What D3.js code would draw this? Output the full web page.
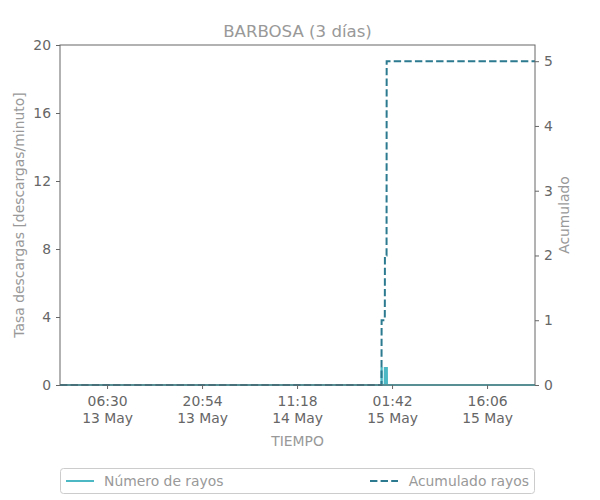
<!DOCTYPE html>
<html><head><meta charset="utf-8">
<script src="https://cdn.jsdelivr.net/npm/d3@7"></script>
<style>
body{margin:0;background:#fff;}
text{font-family:"DejaVu Sans",sans-serif;}
</style></head>
<body><svg id="c" width="600" height="500"></svg>
<script>
const title = "BARBOSA (3 días)";
const domainTimes = ["2024-05-12T23:22:00", "2024-05-15T23:22:00"];
const tickTimes = ["2024-05-13T06:30:00","2024-05-13T20:54:00","2024-05-14T11:18:00","2024-05-15T01:42:00","2024-05-15T16:06:00"];
const leftTicks = [0,4,8,12,16,20];
const rightTicks = [0,1,2,3,4,5];
const rateTimes = ["2024-05-12T23:22:00","2024-05-15T00:05:00","2024-05-15T00:06:00","2024-05-15T00:08:00","2024-05-15T00:09:00",
  "2024-05-15T00:35:00","2024-05-15T00:36:00","2024-05-15T00:38:00","2024-05-15T00:39:00",
  "2024-05-15T00:51:00","2024-05-15T00:52:00","2024-05-15T00:55:00","2024-05-15T00:56:00","2024-05-15T23:22:00"];
const rateValues = [0,0,1,1,0, 0,1,1,0, 0,1,1,0,0];
const accTimes = ["2024-05-12T23:22:00","2024-05-15T00:06:00","2024-05-15T00:07:00","2024-05-15T00:36:00","2024-05-15T00:37:00","2024-05-15T00:52:00","2024-05-15T00:53:00","2024-05-15T23:22:00"];
const accValues = [0,0,1,1,2,2,5,5];
const seriesNames = ["Número de rayos","Acumulado rayos"];

const parse = d3.isoParse;
const W=600,H=500, m={l:60,r:65,t:45,b:115};
const FS="13.9px";
const svg=d3.select("#c");
const x=d3.scaleTime().domain(domainTimes.map(parse)).range([m.l,W-m.r]);
const yL=d3.scaleLinear().domain([0,20]).range([H-m.b,m.t]);
const yR=d3.scaleLinear().domain([0,5.25]).range([H-m.b,m.t]);
const fmtT=d3.timeFormat("%H:%M"), fmtD=d3.timeFormat("%-d %b");
const axisCol="#666", tickTxt="#666", labCol="#999";

// lines
const rate = rateTimes.map((t,i)=>({t:parse(t),v:rateValues[i]}));
const acc = accTimes.map((t,i)=>({t:parse(t),v:accValues[i]}));
svg.append("path").datum(rate).attr("fill","none").attr("stroke","#4bb8c4").attr("stroke-width",2)
  .attr("d",d3.line().x(d=>x(d.t)).y(d=>yL(d.v)));
svg.append("path").datum(acc).attr("fill","none").attr("stroke","#2b7a8f").attr("stroke-width",2)
  .attr("stroke-dasharray","7.4,3.2")
  .attr("d",d3.line().x(d=>x(d.t)).y(d=>yR(d.v)));

// frame
svg.append("rect").attr("x",m.l).attr("y",m.t).attr("width",W-m.l-m.r).attr("height",H-m.t-m.b)
  .attr("fill","none").attr("stroke",axisCol).attr("stroke-width",1);

function style(g){
  g.select(".domain").remove();
  g.selectAll(".tick line").attr("stroke",axisCol);
  g.selectAll(".tick text").attr("fill",tickTxt).style("font-size",FS).style("font-family","DejaVu Sans");
}
svg.append("g").attr("transform",`translate(${m.l},0)`)
  .call(d3.axisLeft(yL).tickValues(leftTicks).tickSize(4).tickPadding(5).tickFormat(d3.format("d"))).call(style);
svg.append("g").attr("transform",`translate(${W-m.r},0)`)
  .call(d3.axisRight(yR).tickValues(rightTicks).tickSize(4).tickPadding(5).tickFormat(d3.format("d"))).call(style);
const gx=svg.append("g").attr("transform",`translate(0,${H-m.b})`)
  .call(d3.axisBottom(x).tickValues(tickTimes.map(parse)).tickSize(4).tickFormat("")).call(style);
gx.selectAll(".tick").each(function(d){
  const t=d3.select(this).append("text").attr("fill",tickTxt).style("font-size",FS).attr("text-anchor","middle");
  t.append("tspan").attr("x",0).attr("y",21).text(fmtT(d));
  t.append("tspan").attr("x",0).attr("y",38).text(fmtD(d));
});

// labels
svg.append("text").attr("x",(m.l+W-m.r)/2).attr("y",37).attr("text-anchor","middle").attr("fill",labCol).style("font-size","16.6px").text(title);
svg.append("text").attr("x",(m.l+W-m.r)/2).attr("y",446).attr("text-anchor","middle").attr("fill",labCol).style("font-size",FS).text("TIEMPO");
svg.append("text").attr("transform",`translate(24,${(m.t+H-m.b)/2}) rotate(-90)`).attr("text-anchor","middle").attr("fill",labCol).style("font-size",FS).text("Tasa descargas [descargas/minuto]");
svg.append("text").attr("transform",`translate(569,${(m.t+H-m.b)/2}) rotate(-90)`).attr("text-anchor","middle").attr("fill",labCol).style("font-size",FS).text("Acumulado");

// legend
const lg=svg.append("g");
lg.append("rect").attr("x",60.5).attr("y",468.5).attr("width",474).attr("height",25).attr("rx",3)
  .attr("fill","#fff").attr("stroke","#ccc");
lg.append("line").attr("x1",66).attr("x2",94).attr("y1",481).attr("y2",481).attr("stroke","#4bb8c4").attr("stroke-width",2);
lg.append("text").attr("x",104).attr("y",486).attr("fill",labCol).style("font-size",FS).text(seriesNames[0]);
lg.append("line").attr("x1",370).attr("x2",398).attr("y1",481).attr("y2",481).attr("stroke","#2b7a8f").attr("stroke-width",2).attr("stroke-dasharray","7.4,3.2");
lg.append("text").attr("x",529).attr("y",486).attr("text-anchor","end").attr("fill",labCol).style("font-size",FS).text(seriesNames[1]);
</script></body></html>
